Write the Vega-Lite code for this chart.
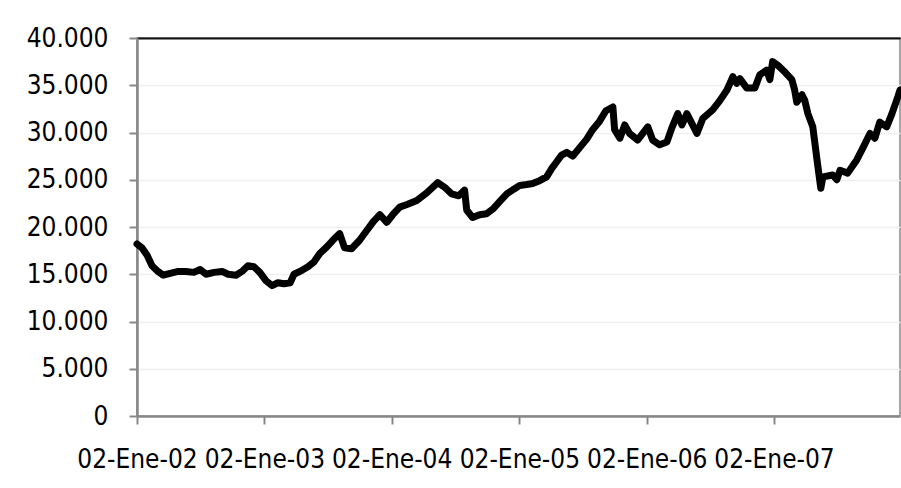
{
  "$schema": "https://vega.github.io/schema/vega-lite/v6.json",
  "width": 763,
  "height": 378,
  "autosize": {"type": "none"},
  "padding": {"left": 137, "top": 38, "right": 1, "bottom": 72},
  "background": "white",
  "config": {
    "view": {"stroke": "#888888", "strokeWidth": 1.5},
    "font": "DejaVu Sans Condensed, Liberation Sans, sans-serif"
  },
  "data": {"values": [
    {"fecha": "2002-01-02", "valor": 18200},
    {"fecha": "2002-01-16", "valor": 17800},
    {"fecha": "2002-01-31", "valor": 17000},
    {"fecha": "2002-02-14", "valor": 15900},
    {"fecha": "2002-03-03", "valor": 15300},
    {"fecha": "2002-03-18", "valor": 14900},
    {"fecha": "2002-04-07", "valor": 15100},
    {"fecha": "2002-04-30", "valor": 15300},
    {"fecha": "2002-05-22", "valor": 15300},
    {"fecha": "2002-06-14", "valor": 15200},
    {"fecha": "2002-07-02", "valor": 15500},
    {"fecha": "2002-07-19", "valor": 15000},
    {"fecha": "2002-08-11", "valor": 15200},
    {"fecha": "2002-09-03", "valor": 15300},
    {"fecha": "2002-09-20", "valor": 15000},
    {"fecha": "2002-10-13", "valor": 14900},
    {"fecha": "2002-10-30", "valor": 15300},
    {"fecha": "2002-11-16", "valor": 15900},
    {"fecha": "2002-12-03", "valor": 15800},
    {"fecha": "2002-12-20", "valor": 15200},
    {"fecha": "2003-01-07", "valor": 14300},
    {"fecha": "2003-01-24", "valor": 13800},
    {"fecha": "2003-02-10", "valor": 14100},
    {"fecha": "2003-02-27", "valor": 14000},
    {"fecha": "2003-03-17", "valor": 14100},
    {"fecha": "2003-03-28", "valor": 15000},
    {"fecha": "2003-04-14", "valor": 15300},
    {"fecha": "2003-05-07", "valor": 15800},
    {"fecha": "2003-05-24", "valor": 16300},
    {"fecha": "2003-06-10", "valor": 17200},
    {"fecha": "2003-06-30", "valor": 17900},
    {"fecha": "2003-07-20", "valor": 18700},
    {"fecha": "2003-08-06", "valor": 19300},
    {"fecha": "2003-08-20", "valor": 17800},
    {"fecha": "2003-09-09", "valor": 17700},
    {"fecha": "2003-10-02", "valor": 18600},
    {"fecha": "2003-10-22", "valor": 19600},
    {"fecha": "2003-11-11", "valor": 20600},
    {"fecha": "2003-11-29", "valor": 21300},
    {"fecha": "2003-12-19", "valor": 20500},
    {"fecha": "2004-01-05", "valor": 21300},
    {"fecha": "2004-01-25", "valor": 22100},
    {"fecha": "2004-02-17", "valor": 22400},
    {"fecha": "2004-03-14", "valor": 22800},
    {"fecha": "2004-04-11", "valor": 23600},
    {"fecha": "2004-05-13", "valor": 24700},
    {"fecha": "2004-06-02", "valor": 24200},
    {"fecha": "2004-06-22", "valor": 23500},
    {"fecha": "2004-07-12", "valor": 23300},
    {"fecha": "2004-07-29", "valor": 23900},
    {"fecha": "2004-08-04", "valor": 21800},
    {"fecha": "2004-08-21", "valor": 21000},
    {"fecha": "2004-09-10", "valor": 21300},
    {"fecha": "2004-09-30", "valor": 21400},
    {"fecha": "2004-10-18", "valor": 21900},
    {"fecha": "2004-11-07", "valor": 22700},
    {"fecha": "2004-11-27", "valor": 23500},
    {"fecha": "2004-12-17", "valor": 24000},
    {"fecha": "2005-01-03", "valor": 24400},
    {"fecha": "2005-01-23", "valor": 24500},
    {"fecha": "2005-02-09", "valor": 24600},
    {"fecha": "2005-03-01", "valor": 24900},
    {"fecha": "2005-03-21", "valor": 25300},
    {"fecha": "2005-04-05", "valor": 26200},
    {"fecha": "2005-04-19", "valor": 26900},
    {"fecha": "2005-05-03", "valor": 27600},
    {"fecha": "2005-05-18", "valor": 27900},
    {"fecha": "2005-06-04", "valor": 27500},
    {"fecha": "2005-06-24", "valor": 28400},
    {"fecha": "2005-07-14", "valor": 29300},
    {"fecha": "2005-07-31", "valor": 30300},
    {"fecha": "2005-08-20", "valor": 31200},
    {"fecha": "2005-09-07", "valor": 32300},
    {"fecha": "2005-09-27", "valor": 32700},
    {"fecha": "2005-10-02", "valor": 30300},
    {"fecha": "2005-10-17", "valor": 29400},
    {"fecha": "2005-10-31", "valor": 30800},
    {"fecha": "2005-11-14", "valor": 29900},
    {"fecha": "2005-12-07", "valor": 29200},
    {"fecha": "2006-01-05", "valor": 30600},
    {"fecha": "2006-01-19", "valor": 29200},
    {"fecha": "2006-02-08", "valor": 28700},
    {"fecha": "2006-03-01", "valor": 29000},
    {"fecha": "2006-03-15", "valor": 30500},
    {"fecha": "2006-04-01", "valor": 32000},
    {"fecha": "2006-04-13", "valor": 30800},
    {"fecha": "2006-04-27", "valor": 32000},
    {"fecha": "2006-05-26", "valor": 29900},
    {"fecha": "2006-06-12", "valor": 31500},
    {"fecha": "2006-07-10", "valor": 32400},
    {"fecha": "2006-07-31", "valor": 33400},
    {"fecha": "2006-08-20", "valor": 34500},
    {"fecha": "2006-09-06", "valor": 35900},
    {"fecha": "2006-09-17", "valor": 35200},
    {"fecha": "2006-09-26", "valor": 35700},
    {"fecha": "2006-10-16", "valor": 34700},
    {"fecha": "2006-11-08", "valor": 34700},
    {"fecha": "2006-11-22", "valor": 36100},
    {"fecha": "2006-12-12", "valor": 36600},
    {"fecha": "2006-12-21", "valor": 35600},
    {"fecha": "2006-12-29", "valor": 37500},
    {"fecha": "2007-01-13", "valor": 37100},
    {"fecha": "2007-02-02", "valor": 36400},
    {"fecha": "2007-02-22", "valor": 35600},
    {"fecha": "2007-03-02", "valor": 34500},
    {"fecha": "2007-03-08", "valor": 33200},
    {"fecha": "2007-03-23", "valor": 34000},
    {"fecha": "2007-03-31", "valor": 33400},
    {"fecha": "2007-04-09", "valor": 32000},
    {"fecha": "2007-04-23", "valor": 30600},
    {"fecha": "2007-05-08", "valor": 26300},
    {"fecha": "2007-05-16", "valor": 24100},
    {"fecha": "2007-05-22", "valor": 25300},
    {"fecha": "2007-06-19", "valor": 25500},
    {"fecha": "2007-07-01", "valor": 25000},
    {"fecha": "2007-07-10", "valor": 26000},
    {"fecha": "2007-08-01", "valor": 25700},
    {"fecha": "2007-08-27", "valor": 27100},
    {"fecha": "2007-09-14", "valor": 28400},
    {"fecha": "2007-10-04", "valor": 29900},
    {"fecha": "2007-10-18", "valor": 29400},
    {"fecha": "2007-11-01", "valor": 31100},
    {"fecha": "2007-11-21", "valor": 30600},
    {"fecha": "2007-12-06", "valor": 32000},
    {"fecha": "2007-12-23", "valor": 33800},
    {"fecha": "2007-12-29", "valor": 34500}
  ]},
  "mark": {"type": "line", "color": "black", "strokeWidth": 7, "strokeJoin": "round", "strokeCap": "round", "clip": false},
  "encoding": {
    "x": {
      "field": "fecha", "type": "temporal",
      "scale": {"domain": [{"year": 2002, "month": 1, "date": 2}, {"year": 2007, "month": 12, "date": 29}]},
      "axis": {
        "title": null,
        "values": [
          {"year": 2002, "month": 1, "date": 2},
          {"year": 2003, "month": 1, "date": 2},
          {"year": 2004, "month": 1, "date": 2},
          {"year": 2005, "month": 1, "date": 2},
          {"year": 2006, "month": 1, "date": 2},
          {"year": 2007, "month": 1, "date": 2}
        ],
        "format": "%d-Ene-%y",
        "grid": false,
        "domainColor": "#888888", "domainWidth": 2.5,
        "tickColor": "#888888", "tickWidth": 2, "tickSize": 8,
        "labelFontSize": 26, "labelColor": "black", "labelPadding": 22,
        "labelFont": "DejaVu Sans Condensed, Liberation Sans, sans-serif",
        "labelFlush": false, "labelOverlap": false
      }
    },
    "y": {
      "field": "valor", "type": "quantitative",
      "scale": {"domain": [0, 40000], "nice": false},
      "axis": {
        "title": null,
        "values": [0, 5000, 10000, 15000, 20000, 25000, 30000, 35000, 40000],
        "labelExpr": "replace(format(datum.value, ','), ',', '.')",
        "domainColor": "#888888", "domainWidth": 2.5,
        "tickColor": "#888888", "tickWidth": 2, "tickSize": 8,
        "gridColor": {"condition": {"test": "datum.value == 40000", "value": "#111111"}, "value": "#efefef"},
        "gridWidth": {"condition": {"test": "datum.value == 40000", "value": 2}, "value": 1.5},
        "labelFontSize": 26, "labelColor": "black", "labelPadding": 21,
        "labelFont": "DejaVu Sans Condensed, Liberation Sans, sans-serif",
        "labelFlush": false, "labelOverlap": false
      }
    }
  }
}
